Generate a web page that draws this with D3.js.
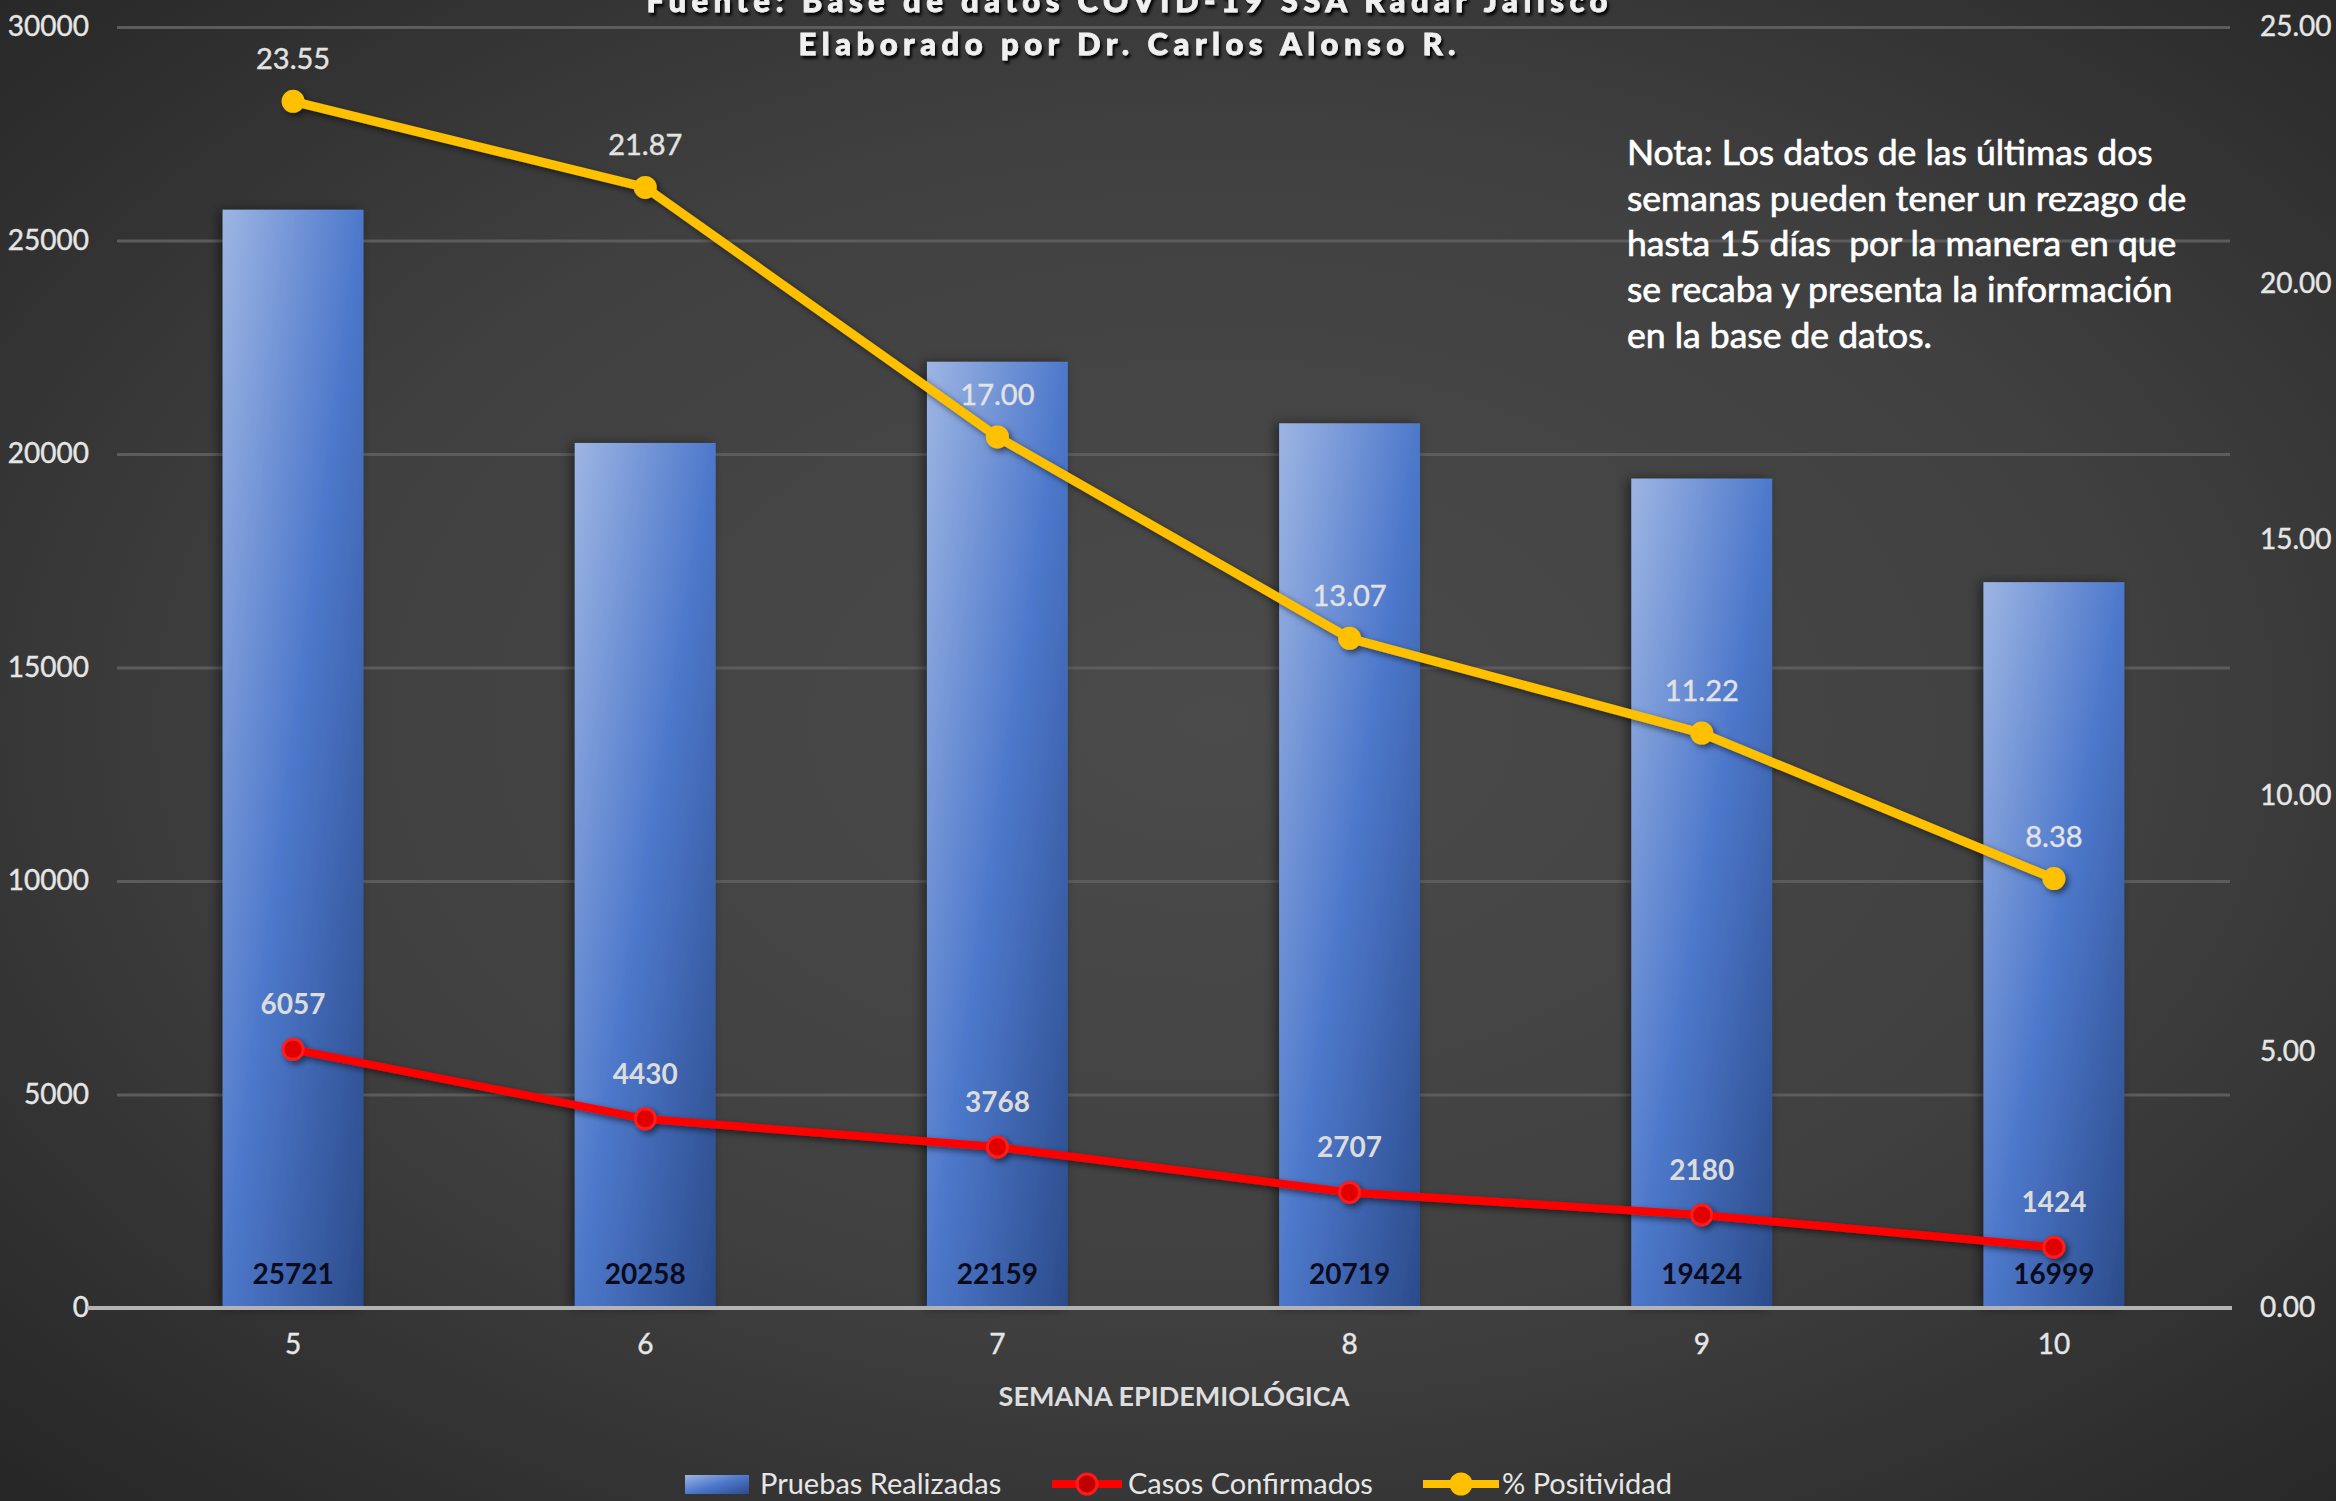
<!DOCTYPE html>
<html>
<head>
<meta charset="utf-8">
<script src="https://cdn.jsdelivr.net/npm/d3@7"></script>
<style>
  html, body { margin: 0; padding: 0; background: #333; }
  svg { display: block; }
  text { font-family: Lato, "Open Sans", sans-serif; }
</style>
</head>
<body>
<svg id="chart" width="2336" height="1501"></svg>
<script>
// ---- data ----
const weeks = ["5", "6", "7", "8", "9", "10"];
const pruebas = [25721, 20258, 22159, 20719, 19424, 16999];
const casos = [6057, 4430, 3768, 2707, 2180, 1424];
const positividad = [23.55, 21.87, 17.00, 13.07, 11.22, 8.38];
const leftTicks = [0, 5000, 10000, 15000, 20000, 25000, 30000];
const rightTicks = [0, 5, 10, 15, 20, 25];
const titleLines = ["Fuente: Base de datos COVID-19 SSA Radar Jalisco", "Elaborado por Dr. Carlos Alonso R."];
const noteLines = [
  "Nota: Los datos de las últimas dos",
  "semanas pueden tener un rezago de",
  "hasta 15 días  por la manera en que",
  "se recaba y presenta la información",
  "en la base de datos."
];
const xTitle = "SEMANA EPIDEMIOLÓGICA";
const legendItems = ["Pruebas Realizadas", "Casos Confirmados", "% Positividad"];

// ---- layout ----
const W = 2336, H = 1501;
const plot = { left: 117, right: 2230, top: 27, bottom: 1308 };
const svg = d3.select("#chart");
const defs = svg.append("defs");

const bg = defs.append("radialGradient").attr("id", "bg")
  .attr("cx", "52%").attr("cy", "48%").attr("r", "72%");
bg.append("stop").attr("offset", "0%").attr("stop-color", "#4b4b4b");
bg.append("stop").attr("offset", "55%").attr("stop-color", "#404040");
bg.append("stop").attr("offset", "100%").attr("stop-color", "#272727");

const barGrad = defs.append("linearGradient").attr("id", "barGrad")
  .attr("x1", 0).attr("y1", 0).attr("x2", 1).attr("y2", 1);
barGrad.append("stop").attr("offset", "0%").attr("stop-color", "#9db5e3");
barGrad.append("stop").attr("offset", "50%").attr("stop-color", "#4d78cb");
barGrad.append("stop").attr("offset", "100%").attr("stop-color", "#2b4b8a");

const shadow = defs.append("filter").attr("id", "shadow")
  .attr("x", "-20%").attr("y", "-20%").attr("width", "140%").attr("height", "140%");
shadow.append("feDropShadow").attr("dx", 3).attr("dy", 3).attr("stdDeviation", 3)
  .attr("flood-color", "#000").attr("flood-opacity", 0.55);

const barShadow = defs.append("filter").attr("id", "barShadow")
  .attr("x", "-30%").attr("y", "-5%").attr("width", "160%").attr("height", "110%");
barShadow.append("feDropShadow").attr("dx", -4).attr("dy", 0).attr("stdDeviation", 6)
  .attr("flood-color", "#000").attr("flood-opacity", 0.45);

const textShadow = defs.append("filter").attr("id", "textShadow")
  .attr("x", "-5%").attr("y", "-30%").attr("width", "110%").attr("height", "160%");
textShadow.append("feDropShadow").attr("dx", 2).attr("dy", 3).attr("stdDeviation", 1.5)
  .attr("flood-color", "#000").attr("flood-opacity", 0.95);

svg.append("rect").attr("width", W).attr("height", H).attr("fill", "url(#bg)");

// ---- scales ----
const x = d3.scaleBand().domain(weeks).range([plot.left, plot.right])
  .paddingInner(0.6).paddingOuter(0.3);
const yL = d3.scaleLinear().domain([0, 30000]).range([plot.bottom, plot.top]);
const yR = d3.scaleLinear().domain([0, 25]).range([plot.bottom, plot.top]);
const cx = d => x(d) + x.bandwidth() / 2;

// gridlines
const grid = svg.append("g").attr("transform", `translate(${plot.left},0)`)
  .call(d3.axisLeft(yL).tickValues(leftTicks.filter(v => v > 0)).tickSize(-(plot.right - plot.left)).tickFormat(""));
grid.select(".domain").remove();
grid.selectAll("line").attr("stroke", "#5c5c5c").attr("stroke-width", 3);

// left axis labels
const axL = svg.append("g").attr("transform", `translate(${plot.left - 28},0)`)
  .call(d3.axisLeft(yL).tickValues(leftTicks).tickSize(0).tickPadding(0).tickFormat(d3.format("d")));
axL.select(".domain").remove();
axL.selectAll("text").attr("fill", "#e6e6e6").style("font-size", "28px").attr("font-family", "Lato")
  .attr("stroke", "#e6e6e6").attr("stroke-width", 0.4);

// right axis labels
const axR = svg.append("g").attr("transform", `translate(${plot.right + 30},0)`)
  .call(d3.axisRight(yR).tickValues(rightTicks).tickSize(0).tickPadding(0).tickFormat(d3.format(".2f")));
axR.select(".domain").remove();
axR.selectAll("text").attr("fill", "#e6e6e6").style("font-size", "28px").attr("font-family", "Lato")
  .attr("stroke", "#e6e6e6").attr("stroke-width", 0.4);

// bars
svg.append("g").selectAll("rect").data(weeks).join("rect")
  .attr("x", d => x(d)).attr("width", x.bandwidth())
  .attr("y", (d, i) => yL(pruebas[i]))
  .attr("height", (d, i) => yL(0) - yL(pruebas[i]))
  .attr("fill", "url(#barGrad)")
  .attr("filter", "url(#barShadow)");

// x axis line
const axX = svg.append("g").attr("transform", `translate(0,${plot.bottom})`)
  .call(d3.axisBottom(x).tickSize(0).tickPadding(26));
axX.select(".domain").attr("stroke", "#b3b3b3").attr("stroke-width", 4)
  .attr("d", `M${plot.left - 30},0H${plot.right + 2}`);
axX.selectAll("text").attr("fill", "#e6e6e6").style("font-size", "28px").attr("font-family", "Lato")
  .attr("stroke", "#e6e6e6").attr("stroke-width", 0.4);

// bar labels
svg.append("g").selectAll("text").data(weeks).join("text")
  .attr("x", d => cx(d)).attr("y", plot.bottom - 24)
  .attr("text-anchor", "middle")
  .attr("fill", "#0b0b1e").style("font-size", "28px").style("font-weight", "700")
  .text((d, i) => pruebas[i]);

// casos line
const lineCasos = d3.line().x(d => cx(d.w)).y(d => yL(d.v));
const casosData = weeks.map((w, i) => ({ w, v: casos[i] }));
const gC = svg.append("g").attr("filter", "url(#shadow)");
gC.append("path").datum(casosData).attr("d", lineCasos)
  .attr("fill", "none").attr("stroke", "#ff0000").attr("stroke-width", 8).attr("stroke-linejoin", "round");
gC.selectAll("circle").data(casosData).join("circle")
  .attr("cx", d => cx(d.w)).attr("cy", d => yL(d.v)).attr("r", 10)
  .attr("fill", "#e00000").attr("stroke", "#ff1a1a").attr("stroke-width", 3);
svg.append("g").selectAll("text").data(casosData).join("text")
  .attr("x", d => cx(d.w)).attr("y", d => yL(d.v) - 35)
  .attr("text-anchor", "middle").attr("fill", "#dcdcdc")
  .style("font-size", "28px").style("font-weight", "700")
  .text(d => d.v);

// positividad line
const lineP = d3.line().x(d => cx(d.w)).y(d => yR(d.v));
const pData = weeks.map((w, i) => ({ w, v: positividad[i] }));
const gP = svg.append("g").attr("filter", "url(#shadow)");
gP.append("path").datum(pData).attr("d", lineP)
  .attr("fill", "none").attr("stroke", "#ffc000").attr("stroke-width", 9).attr("stroke-linejoin", "round");
gP.selectAll("circle").data(pData).join("circle")
  .attr("cx", d => cx(d.w)).attr("cy", d => yR(d.v)).attr("r", 10)
  .attr("fill", "#ffc000").attr("stroke", "#ffc000").attr("stroke-width", 3);
svg.append("g").selectAll("text").data(pData).join("text")
  .attr("x", d => cx(d.w)).attr("y", d => yR(d.v) - 32)
  .attr("text-anchor", "middle").attr("fill", "#e3e3e3")
  .attr("stroke", "#e3e3e3").attr("stroke-width", 0.4)
  .style("font-size", "29px")
  .text(d => d3.format(".2f")(d.v));

// title
const tWidths = [961, 657];
svg.append("g").attr("filter", "url(#textShadow)").selectAll("text").data(titleLines).join("text")
  .attr("x", 1127).attr("y", (d, i) => 12 + i * 43)
  .attr("text-anchor", "middle").attr("fill", "#f0f0f0")
  .attr("stroke", "#f0f0f0").attr("stroke-width", 0.8)
  .style("font-size", "31px").style("font-weight", "900")
  .attr("textLength", (d, i) => tWidths[i]).attr("lengthAdjust", "spacing")
  .text(d => d);

// note
svg.append("g").selectAll("text").data(noteLines).join("text")
  .attr("x", 1627).attr("y", (d, i) => 165 + i * 45.7)
  .attr("xml:space", "preserve").style("white-space", "pre")
  .attr("fill", "#ffffff").attr("stroke", "#ffffff").attr("stroke-width", 0.7)
  .style("font-size", "35.5px")
  .text(d => d);

// x axis title
svg.append("text").attr("x", 1174).attr("y", 1406).attr("text-anchor", "middle")
  .attr("fill", "#dedede").style("font-size", "27px").style("font-weight", "700")
  .text(xTitle);

// legend
const leg = svg.append("g");
const ly = 1484;
const legFont = "29px";
leg.append("rect").attr("x", 685).attr("y", ly - 9).attr("width", 64).attr("height", 19).attr("fill", "url(#barGrad)");
leg.append("text").attr("x", 760).attr("y", ly + 10).attr("fill", "#e6e6e6").style("font-size", legFont).text(legendItems[0]);
leg.append("line").attr("x1", 1052).attr("x2", 1122).attr("y1", ly).attr("y2", ly).attr("stroke", "#ff0000").attr("stroke-width", 8);
leg.append("circle").attr("cx", 1087).attr("cy", ly).attr("r", 10).attr("fill", "#c00000").attr("stroke", "#ff1a1a").attr("stroke-width", 3);
leg.append("text").attr("x", 1128).attr("y", ly + 10).attr("fill", "#e6e6e6").style("font-size", legFont).text(legendItems[1]);
leg.append("line").attr("x1", 1423).attr("x2", 1499).attr("y1", ly).attr("y2", ly).attr("stroke", "#ffc000").attr("stroke-width", 8);
leg.append("circle").attr("cx", 1461).attr("cy", ly).attr("r", 10).attr("fill", "#ffc000").attr("stroke", "#ffc000").attr("stroke-width", 3);
leg.append("text").attr("x", 1502).attr("y", ly + 10).attr("fill", "#e6e6e6").style("font-size", legFont).text(legendItems[2]);
</script>
</body>
</html>
